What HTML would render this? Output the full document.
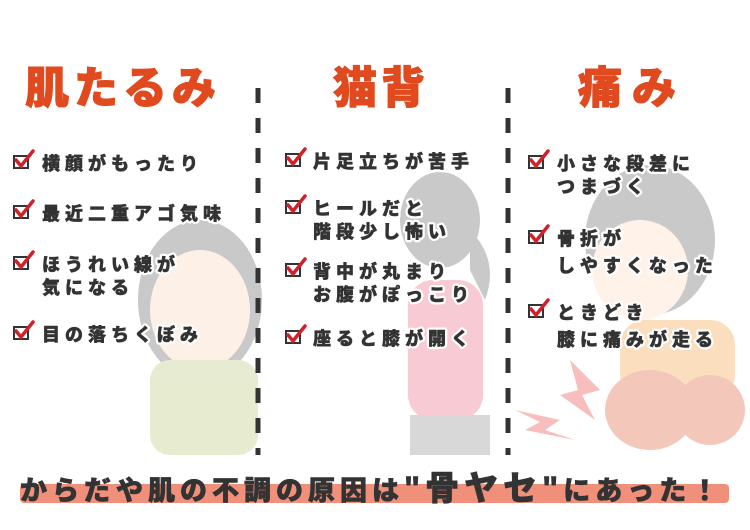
<!DOCTYPE html>
<html><head><meta charset="utf-8"><style>
html,body{margin:0;padding:0;background:#fff;}
svg{display:block;}
.t{font-family:"Liberation Sans","Noto Sans CJK JP",sans-serif;font-weight:900;stroke:#333;stroke-width:0.6px;}
.i{font-family:"Liberation Sans","Noto Sans CJK JP",sans-serif;font-weight:900;font-size:18px;fill:#333;letter-spacing:5px;}
.w{stroke:#fff;stroke-width:5px;stroke-linejoin:round;fill:#fff;}
.k{stroke:#333;stroke-width:0.5px;}
.h{font-family:"Liberation Sans","Noto Sans CJK JP",sans-serif;font-weight:900;fill:#e04a1e;stroke:#e04a1e;stroke-width:1px;}
</style></head><body>
<svg width="750" height="530" viewBox="0 0 750 530" xmlns="http://www.w3.org/2000/svg">
<defs>
<g id="cb"><rect x="0" y="4" width="14" height="12" fill="#fff" stroke="#333" stroke-width="2"/><path d="M2 8 L7 14 L19 -1" fill="none" stroke="#d0202a" stroke-width="3.5" stroke-linecap="round"/></g>
<g id="L">
<text x="42" y="170">横顔がもったり</text>
<text x="42" y="220">最近二重アゴ気味</text>
<text x="42" y="271">ほうれい線が</text><text x="42" y="294">気になる</text>
<text x="42" y="341">目の落ちくぼみ</text>
<text x="313" y="168">片足立ちが苦手</text>
<text x="313" y="215">ヒールだと</text><text x="313" y="238">階段少し怖い</text>
<text x="313" y="278">背中が丸まり</text><text x="313" y="301">お腹がぽっこり</text>
<text x="313" y="345">座ると膝が開く</text>
<text x="557" y="170">小さな段差に</text><text x="557" y="193">つまづく</text>
<text x="557" y="245">骨折が</text><text x="557" y="272">しやすくなった</text>
<text x="557" y="319">ときどき</text><text x="557" y="346">膝に痛みが走る</text>
</g>
</defs>
<g opacity="0.45">
 <ellipse cx="200" cy="300" rx="62" ry="80" fill="#8a8a8a"/>
 <ellipse cx="200" cy="310" rx="50" ry="60" fill="#fbe0cc"/>
 <rect x="150" y="360" width="108" height="95" rx="20" fill="#c9d59a"/>
 <ellipse cx="440" cy="220" rx="40" ry="48" fill="#8a8a8a"/>
 <path d="M470 230 Q500 260 485 300 L470 270Z" fill="#8a8a8a"/>
 <rect x="408" y="280" width="75" height="140" rx="25" fill="#f08ba0"/>
 <rect x="410" y="415" width="80" height="40" fill="#aaa"/>
 <ellipse cx="650" cy="240" rx="65" ry="75" fill="#8a8a8a"/>
 <ellipse cx="640" cy="270" rx="48" ry="50" fill="#fde3d0"/>
 <rect x="620" y="320" width="115" height="80" rx="25" fill="#f6b870"/>
 <ellipse cx="650" cy="410" rx="45" ry="40" fill="#e6876a"/>
 <ellipse cx="710" cy="410" rx="35" ry="35" fill="#e6876a"/>
 <path d="M570 360 L600 390 L582 395 L595 420 L560 395 L578 390Z" fill="#f07070"/>
 <path d="M515 410 L560 420 L545 430 L575 440 L525 430 L540 422Z" fill="#f07070"/>
</g>
<line x1="258" y1="88" x2="258" y2="455" stroke="#333" stroke-width="5" stroke-dasharray="15 15"/>
<line x1="508" y1="88" x2="508" y2="455" stroke="#333" stroke-width="5" stroke-dasharray="15 15"/>
<text class="h" x="25" y="103" font-size="44" letter-spacing="4" textLength="195">肌たるみ</text>
<text class="h" x="333" y="103" font-size="44" letter-spacing="4">猫背</text>
<text class="h" x="578" y="103" font-size="44" letter-spacing="10">痛み</text>
<use href="#cb" x="14" y="152"/><use href="#cb" x="14" y="202"/><use href="#cb" x="14" y="253"/><use href="#cb" x="14" y="323"/>
<use href="#cb" x="286" y="150"/><use href="#cb" x="286" y="197"/><use href="#cb" x="286" y="260"/><use href="#cb" x="286" y="327"/>
<use href="#cb" x="529" y="152"/><use href="#cb" x="529" y="227"/><use href="#cb" x="529" y="301"/>
<g class="i w"><use href="#L"/></g>
<g class="i k"><use href="#L"/></g>
<rect x="20" y="484" width="709" height="19" rx="4" fill="#f0907a"/>
<text class="t" x="20" y="500" font-size="27" fill="#333" letter-spacing="5">からだや肌の不調の原因は<tspan font-size="34">"骨ヤセ"</tspan>にあった！</text>
</svg>
</body></html>
